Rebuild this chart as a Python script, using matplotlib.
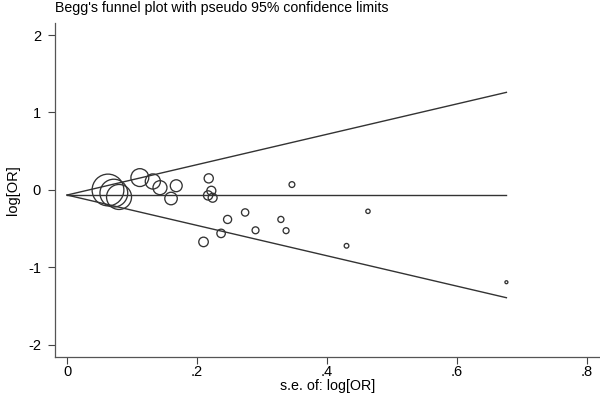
import numpy as np
import matplotlib
matplotlib.use("Agg")
import matplotlib.pyplot as plt

# study-level standard errors and log odds ratios
se = [0.063, 0.080, 0.072, 0.112, 0.132, 0.143, 0.168, 0.160, 0.218, 0.222, 0.217, 0.224,
      0.346, 0.274, 0.247, 0.329, 0.290, 0.337, 0.237, 0.210, 0.463, 0.430, 0.676]
log_or = [0.00, -0.09, -0.04, 0.16, 0.11, 0.03, 0.055, -0.11, 0.15, -0.01, -0.07, -0.10,
          0.07, -0.29, -0.38, -0.38, -0.52, -0.525, -0.56, -0.67, -0.275, -0.72, -1.19]
pooled = -0.065
se_max = 0.676

INK = "#333333"
plt.rcParams.update({"font.family": ["Liberation Sans", "DejaVu Sans"]})

fig = plt.figure(figsize=(6, 3.93), dpi=100)
ax = fig.add_axes([0.0917, 0.0916, 0.9083, 0.8499])

se_a = np.array(se)
# marker radius ~ 1/se (area proportional to inverse variance)
sizes = (2 * 1.0 / se_a * 0.72) ** 2
ax.scatter(se_a, log_or, s=sizes, facecolors="none", edgecolors=INK, linewidths=0.95, zorder=3)

xs = np.array([0, se_max])
ax.plot(xs, [pooled, pooled], color=INK, lw=1)
ax.plot(xs, pooled + 1.96 * xs, color=INK, lw=1)
ax.plot(xs, pooled - 1.96 * xs, color=INK, lw=1)

ax.set_xlim(-0.0185, 0.82)
ax.set_ylim(-2.155, 2.155)
ax.set_xticks([0, 0.2, 0.4, 0.6, 0.8], ["0", ".2", ".4", ".6", ".8"])
ax.set_yticks([-2, -1, 0, 1, 2], ["-2", "-1", "0", "1", "2"])
ax.tick_params(length=4.8, width=0.8, color="#444444", labelsize=10.5)
ax.tick_params(axis="x", pad=0.8)
ax.tick_params(axis="y", pad=5.3)
for s in ["top", "right"]:
    ax.spines[s].set_visible(False)
for s in ["left", "bottom"]:
    ax.spines[s].set_color("#555555")
    ax.spines[s].set_linewidth(0.9)
ax.set_ylabel("log[OR]", fontsize=10.5, labelpad=6)
fig.text(0.5458, 0.001, "s.e. of: log[OR]", fontsize=10.3, ha="center", va="bottom")
fig.text(0.0917, 0.998, "Begg's funnel plot with pseudo 95% confidence limits",
         fontsize=10.2, va="top", ha="left")

fig.savefig("out.png", dpi=100, facecolor="white")
